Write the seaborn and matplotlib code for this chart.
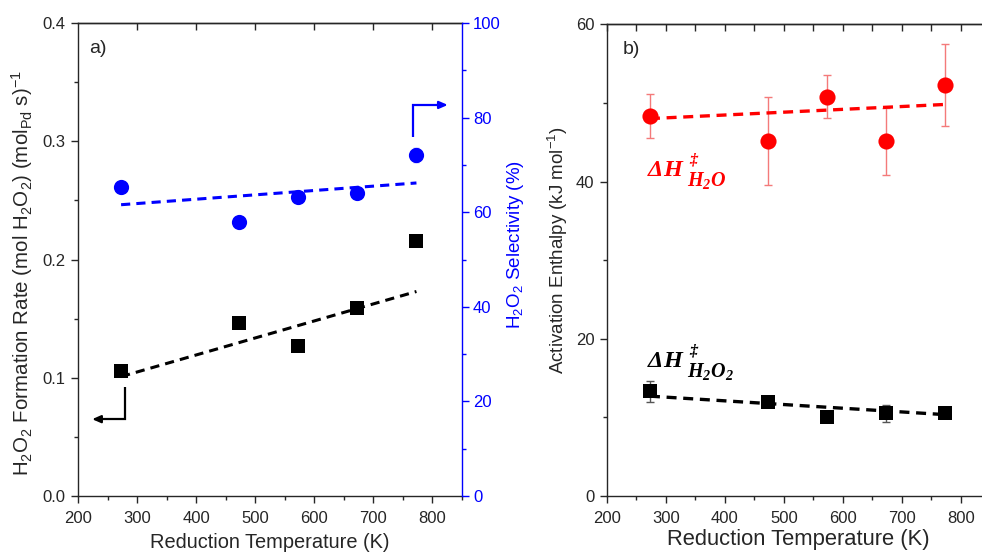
import numpy as np
import pandas as pd
import matplotlib
matplotlib.use("Agg")
import matplotlib.pyplot as plt
import seaborn as sns
from matplotlib.ticker import MultipleLocator

# ---------------- data ----------------
temps = [273, 473, 573, 673, 773]
rate = [0.106, 0.146, 0.127, 0.159, 0.216]
selectivity = [65.3, 58.0, 63.3, 64.1, 72.1]
sel_err = [1.2, 0.6, 0.6, 0.6, 1.4]
fit_T = [273, 773]
rate_fit = [0.101, 0.173]
sel_fit = [61.6, 66.2]

dh_h2o = [48.3, 45.1, 50.8, 45.1, 52.3]
dh_h2o_err = [2.8, 5.6, 2.7, 4.3, 5.2]
dh_h2o2 = [13.3, 11.9, 10.0, 10.5, 10.5]
dh_h2o2_err = [1.3, 0.4, 0.4, 1.1, 0.4]
dh_h2o_fit = [48.0, 49.8]
dh_h2o2_fit = [12.7, 10.35]

xticks = [200, 300, 400, 500, 600, 700, 800]

# ---------------- style ----------------
sns.set_style("ticks")
plt.rcParams["font.family"] = ["Liberation Sans", "DejaVu Sans"]
plt.rcParams["mathtext.fontset"] = "custom"
plt.rcParams["mathtext.rm"] = "Liberation Sans"
plt.rcParams["mathtext.it"] = "Liberation Sans:italic"
plt.rcParams["mathtext.bf"] = "Liberation Sans:bold"
plt.rcParams["mathtext.bfit"] = "Liberation Serif:bold:italic"
plt.rcParams["axes.linewidth"] = 1.0

TICK_FS = 12
BLUE = "#0000ff"
RED = "#ff0000"

fig = plt.figure(figsize=(9.82, 5.55), dpi=100)
ax1 = fig.add_axes([0.0794, 0.1063, 0.391, 0.852])
ax1t = ax1.twinx()
ax2 = fig.add_axes([0.618, 0.1063, 0.3905, 0.850])

df_a = pd.DataFrame({"T": temps, "rate": rate, "sel": selectivity})
df_fit = pd.DataFrame({"T": fit_T, "rate": rate_fit, "sel": sel_fit,
                       "h2o": dh_h2o_fit, "h2o2": dh_h2o2_fit})
df_b = pd.DataFrame({"T": temps, "h2o": dh_h2o, "h2o2": dh_h2o2})

dash = (0, (3, 2))

# ---- panel a ----
sns.lineplot(data=df_fit, x="T", y="rate", ax=ax1, color="black", lw=2.2,
             linestyle=dash, zorder=2)
sns.scatterplot(data=df_a, x="T", y="rate", ax=ax1, marker="s", s=90,
                color="black", edgecolor="black", linewidth=0, zorder=3)

ax1t.errorbar(temps, selectivity, yerr=sel_err, fmt="none", ecolor="#8080ff",
              elinewidth=0.8, capsize=2, zorder=1)
sns.lineplot(data=df_fit, x="T", y="sel", ax=ax1t, color=BLUE, lw=2.2,
             linestyle=dash, zorder=2)
sns.scatterplot(data=df_a, x="T", y="sel", ax=ax1t, marker="o", s=120,
                color=BLUE, edgecolor=BLUE, linewidth=0, zorder=3)

ax1.set_xlim(200, 850)
ax1.set_ylim(0, 0.4)
ax1t.set_ylim(0, 100)
ax1.set_xticks(xticks)
ax1.xaxis.set_minor_locator(MultipleLocator(50))
ax1.yaxis.set_major_locator(MultipleLocator(0.1))
ax1.yaxis.set_minor_locator(MultipleLocator(0.05))
ax1.yaxis.set_major_formatter(matplotlib.ticker.FormatStrFormatter("%.1f"))
ax1t.yaxis.set_major_locator(MultipleLocator(20))
ax1t.yaxis.set_minor_locator(MultipleLocator(10))

for ax in (ax1, ax2):
    ax.tick_params(axis="both", which="major", direction="out", length=5,
                   width=1, labelsize=TICK_FS, pad=4)
    ax.tick_params(axis="both", which="minor", direction="out", length=3, width=1)
    ax.tick_params(axis="x", which="major", pad=6)
    ax.spines["right"].set_visible(False)

ax1t.tick_params(axis="y", which="major", direction="out", length=5, width=1,
                 colors=BLUE, labelsize=TICK_FS, pad=3)
ax1t.tick_params(axis="y", which="minor", direction="out", length=3, width=1,
                 colors=BLUE)
ax1t.spines["right"].set_color(BLUE)
for s in ("left", "top", "bottom"):
    ax1t.spines[s].set_visible(False)

sec1 = ax1.secondary_xaxis("top")
sec1.set_xticks([300, 400, 500, 600, 700, 800])
sec1.tick_params(direction="in", length=5, width=1, labeltop=False)
sec1.xaxis.set_minor_locator(matplotlib.ticker.NullLocator())

ax1.set_xlabel("Reduction Temperature (K)", fontsize=14.4, labelpad=5)
ax1.set_ylabel(r"H$_2$O$_2$ Formation Rate (mol H$_2$O$_2$) (mol$_{\mathrm{Pd}}$ s)$^{-1}$",
               fontsize=14.8, labelpad=5)
ax1.yaxis.label.set_y(0.4715)
ax1t.set_ylabel(r"H$_2$O$_2$ Selectivity (%)", fontsize=13.5, color=BLUE,
                labelpad=3)
ax1t.yaxis.label.set_y(0.532)

ax1.text(0.028, 0.947, "a)", transform=ax1.transAxes, fontsize=14,
         ha="left", va="center")

# arrows
ax1.plot([280, 280, 236], [0.092, 0.065, 0.065], color="black", lw=1.6,
         solid_capstyle="butt", solid_joinstyle="miter", zorder=2)
ax1.annotate("", xy=(224, 0.065), xytext=(240, 0.065),
             arrowprops=dict(arrowstyle="-|>,head_length=0.5,head_width=0.22",
                             color="black", lw=1.6, shrinkA=0, shrinkB=0))
ax1t.plot([768, 768, 812], [75.9, 82.7, 82.7], color=BLUE, lw=1.6,
          solid_capstyle="butt", solid_joinstyle="miter", zorder=2)
ax1t.annotate("", xy=(826, 82.7), xytext=(808, 82.7),
              arrowprops=dict(arrowstyle="-|>,head_length=0.5,head_width=0.22",
                              color=BLUE, lw=1.6, shrinkA=0, shrinkB=0))

# ---- panel b ----
ax2.errorbar(temps, dh_h2o, yerr=dh_h2o_err, fmt="none", ecolor="#f47a7a",
             elinewidth=1, capsize=3, capthick=1, zorder=1)
ax2.errorbar(temps, dh_h2o2, yerr=dh_h2o2_err, fmt="none", ecolor="#555555",
             elinewidth=1, capsize=3, capthick=1, zorder=1)
sns.lineplot(data=df_fit, x="T", y="h2o", ax=ax2, color=RED, lw=2.4,
             linestyle=dash, zorder=2)
sns.lineplot(data=df_fit, x="T", y="h2o2", ax=ax2, color="black", lw=2.4,
             linestyle=dash, zorder=2)
sns.scatterplot(data=df_b, x="T", y="h2o", ax=ax2, marker="o", s=135,
                color=RED, edgecolor=RED, linewidth=0, zorder=3)
sns.scatterplot(data=df_b, x="T", y="h2o2", ax=ax2, marker="s", s=105,
                color="black", edgecolor="black", linewidth=0, zorder=3)

ax2.set_xlim(200, 850)
ax2.set_ylim(0, 60)
ax2.set_xticks(xticks)
ax2.xaxis.set_minor_locator(MultipleLocator(50))
ax2.yaxis.set_major_locator(MultipleLocator(20))
ax2.yaxis.set_minor_locator(MultipleLocator(10))

sec2 = ax2.secondary_xaxis("top")
sec2.xaxis.set_major_locator(MultipleLocator(50))
sec2.tick_params(direction="in", length=5, width=1, labeltop=False)

ax2.set_xlabel("Reduction Temperature (K)", fontsize=15.8, labelpad=2)
ax2.set_ylabel(r"Activation Enthalpy (kJ mol$^{-1}$)", fontsize=13.5,
               labelpad=4)
ax2.yaxis.label.set_y(0.521)
ax2.text(0.042, 0.947, "b)", transform=ax2.transAxes, fontsize=14,
         ha="left", va="center")


def enthalpy_label(ax, x, y, sub, color):
    kw = dict(xycoords="data", textcoords="offset points", color=color,
              ha="left", va="baseline", annotation_clip=False)
    ax.annotate(r"$\mathbfit{\Delta H}$", xy=(x, y), xytext=(0, 0),
                fontsize=17.5, **kw)
    ax.annotate(r"$\mathbfit{\ddag}$", xy=(x, y), xytext=(30, 8.5),
                fontsize=11.5, **kw)
    ax.annotate(sub, xy=(x, y), xytext=(28.5, -7), fontsize=14.5, **kw)


enthalpy_label(ax2, 268, 40.7, r"$\mathbfit{H_2O}$", RED)
enthalpy_label(ax2, 268, 16.4, r"$\mathbfit{H_2O_2}$", "black")

for ax in (ax1, ax2):
    ax.set_facecolor("white")
ax1t.patch.set_visible(False)

fig.savefig("out.png", dpi=100, facecolor="white")
